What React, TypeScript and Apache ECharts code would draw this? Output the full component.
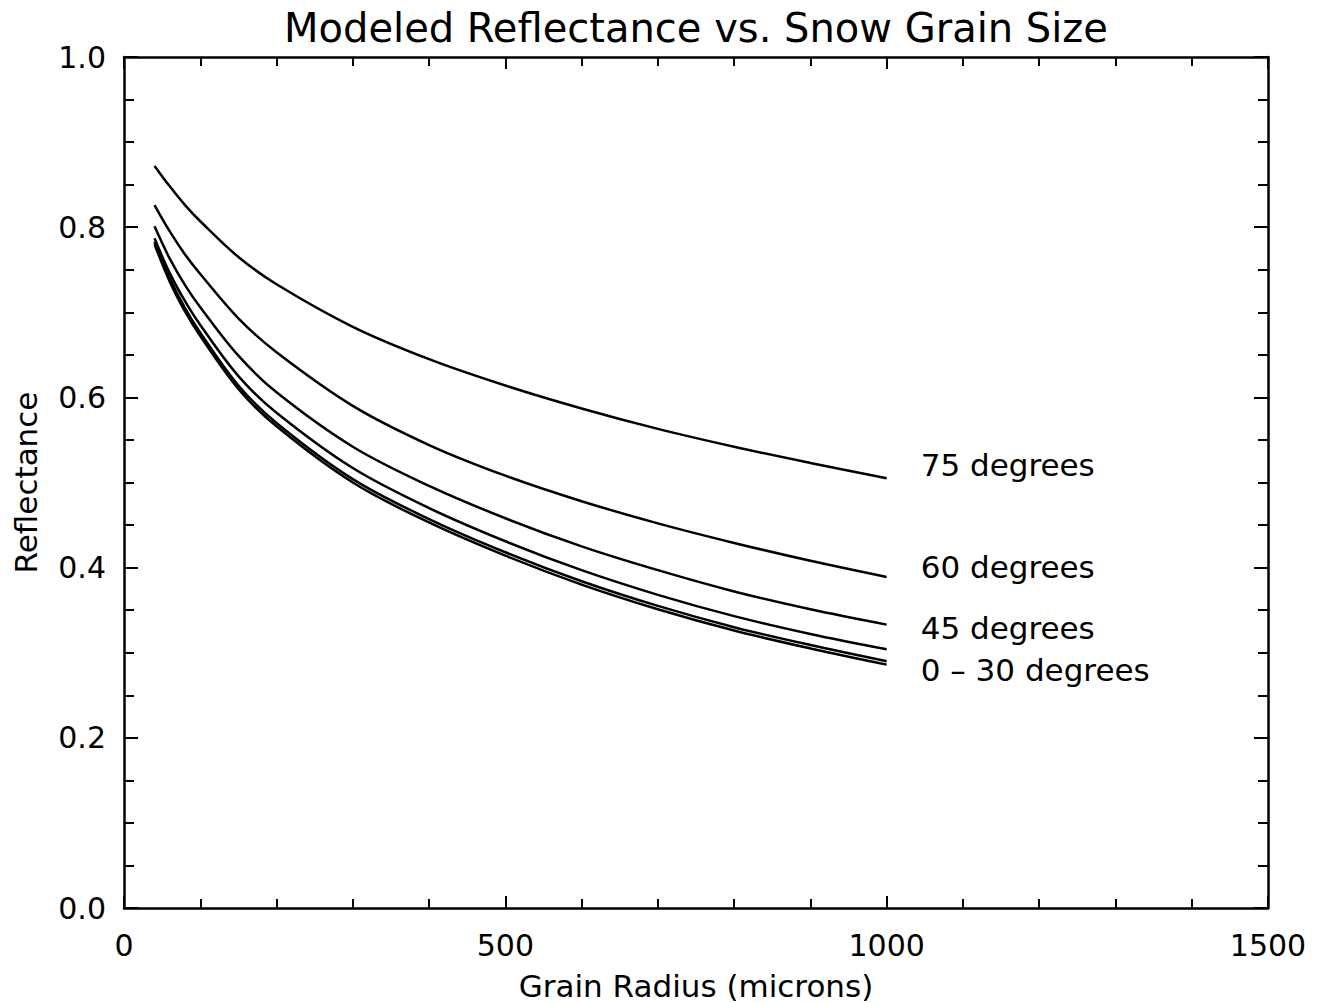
import React, { useEffect, useRef } from "react";
import * as echarts from "echarts";

const radius = [40, 60, 80, 100, 150, 200, 300, 400, 500, 600, 700, 800, 900, 1000];
const deg0 = [0.78, 0.736, 0.701, 0.672, 0.61, 0.566, 0.5, 0.453, 0.414, 0.38, 0.351, 0.326, 0.305, 0.286];
const deg15 = [0.783, 0.74, 0.705, 0.676, 0.614, 0.57, 0.504, 0.457, 0.418, 0.384, 0.355, 0.33, 0.309, 0.29];
const deg30 = [0.787, 0.746, 0.713, 0.685, 0.625, 0.582, 0.517, 0.47, 0.431, 0.397, 0.368, 0.343, 0.322, 0.304];
const deg45 = [0.801, 0.763, 0.732, 0.706, 0.649, 0.606, 0.542, 0.496, 0.458, 0.425, 0.397, 0.372, 0.351, 0.333];
const deg60 = [0.826, 0.795, 0.768, 0.745, 0.693, 0.653, 0.59, 0.544, 0.508, 0.478, 0.452, 0.429, 0.408, 0.389];
const deg75 = [0.872, 0.848, 0.826, 0.807, 0.765, 0.733, 0.683, 0.645, 0.614, 0.587, 0.563, 0.542, 0.523, 0.505];

const xTicks = ["0", "500", "1000", "1500"];
const FONT = "DejaVu Sans";

export default function App() {
  const ref = useRef<HTMLDivElement>(null);
  useEffect(() => {
    if (!ref.current) return;
    const chart = echarts.init(ref.current, undefined, { renderer: "svg" });
    const mk = (vals: number[], name: string, label?: string, offset?: number[]) => ({
      type: "line",
      name,
      data: radius.map((r, i) => [r, vals[i]]),
      showSymbol: false,
      smooth: 0.35,
      lineStyle: { color: "#000", width: 2.5 },
      xAxisIndex: 0,
      yAxisIndex: 0,
      endLabel: label
        ? {
            show: true,
            formatter: label,
            color: "#000",
            fontFamily: FONT,
            fontSize: 31,
            distance: 34,
            offset: offset,
          }
        : { show: false },
    });
    const axisCommon = {
      axisLine: { show: true, onZero: false, lineStyle: { color: "#000", width: 2.5 } },
      splitLine: { show: false },
      minorSplitLine: { show: false },
    };
    chart.setOption({
      animation: false,
      backgroundColor: "#fff",
      title: {
        text: "Modeled Reflectance vs. Snow Grain Size",
        left: 691,
        textAlign: "center",
        top: 3,
        textStyle: { fontFamily: FONT, fontSize: 40, fontWeight: "normal", color: "#000" },
      },
      grid: { left: 124, right: 54, top: 57, bottom: 95, containLabel: false, outerBoundsMode: "none" },
      xAxis: [
        {
          type: "value",
          min: 0,
          max: 1500,
          interval: 500,
          position: "bottom",
          ...axisCommon,
          axisTick: { show: true, inside: true, length: 12, lineStyle: { color: "#000", width: 2 } },
          minorTick: { show: true, splitNumber: 5, length: 9, lineStyle: { color: "#000", width: 2 } },
          axisLabel: {
            show: true,
            margin: 22,
            color: "#000",
            fontFamily: FONT,
            fontSize: 30,
            formatter: (v: number) => xTicks[Math.round(v / 500)] ?? String(v),
          },
          name: "Grain Radius (microns)",
          nameLocation: "middle",
          nameGap: 62,
          nameTextStyle: { color: "#000", fontFamily: FONT, fontSize: 31 },
        },
        {
          type: "value",
          min: 0,
          max: 1500,
          interval: 500,
          position: "top",
          ...axisCommon,
          axisTick: { show: true, inside: true, length: 12, lineStyle: { color: "#000", width: 2 } },
          minorTick: { show: true, splitNumber: 5, length: 9, lineStyle: { color: "#000", width: 2 } },
          axisLabel: { show: false },
        },
      ],
      yAxis: [
        {
          type: "value",
          min: 0,
          max: 1,
          interval: 0.2,
          position: "left",
          ...axisCommon,
          axisTick: { show: true, inside: true, length: 14, lineStyle: { color: "#000", width: 2 } },
          minorTick: { show: true, splitNumber: 4, length: 10, lineStyle: { color: "#000", width: 2 } },
          axisLabel: {
            show: true,
            margin: 18,
            color: "#000",
            fontFamily: FONT,
            fontSize: 30,
            formatter: (v: number) => v.toFixed(1),
          },
          name: "Reflectance",
          nameLocation: "middle",
          nameGap: 83,
          nameTextStyle: { color: "#000", fontFamily: FONT, fontSize: 31 },
        },
        {
          type: "value",
          min: 0,
          max: 1,
          interval: 0.2,
          position: "right",
          ...axisCommon,
          axisTick: { show: true, inside: true, length: 14, lineStyle: { color: "#000", width: 2 } },
          minorTick: { show: true, splitNumber: 4, length: 10, lineStyle: { color: "#000", width: 2 } },
          axisLabel: { show: false },
        },
      ],
      series: [
        mk(deg0, "0 degrees", "0 – 30 degrees", [0, 5]),
        mk(deg15, "15 degrees"),
        mk(deg30, "30 degrees"),
        mk(deg45, "45 degrees", "45 degrees", [0, 3]),
        mk(deg60, "60 degrees", "60 degrees", [0, -10]),
        mk(deg75, "75 degrees", "75 degrees", [0, -13]),
      ],
    });
    return () => chart.dispose();
  }, []);
  return (
    <div
      ref={ref}
      style={{ position: "fixed", left: 0, top: 0, width: 1322, height: 1003, background: "#fff" }}
    />
  );
}
